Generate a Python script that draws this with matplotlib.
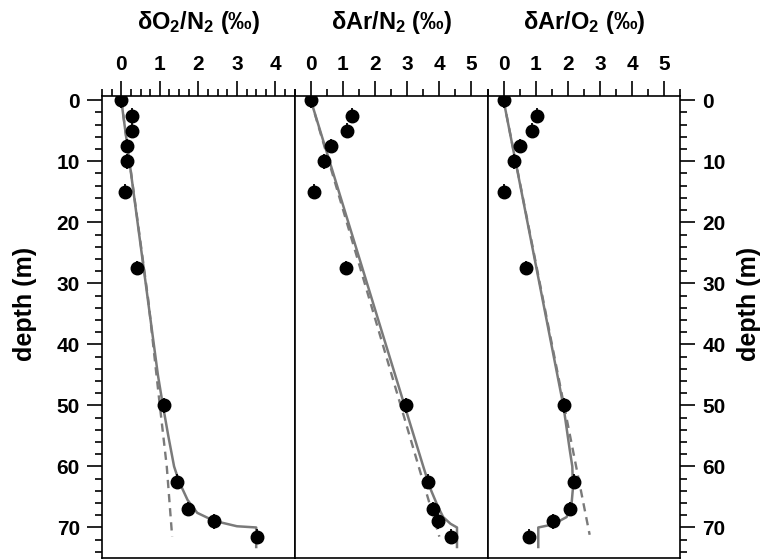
import matplotlib
import matplotlib.pyplot as plt
from matplotlib.ticker import MultipleLocator

matplotlib.use("Agg")

plt.rcParams["font.family"] = ["Liberation Sans", "DejaVu Sans"]
plt.rcParams["font.weight"] = "bold"
plt.rcParams["mathtext.default"] = "regular"

# measured samples
depth = [0, 2.5, 5, 7.5, 10, 15, 27.5, 50, 62.5, 67, 69, 71.5]
o2n2 = [0.0, 0.29, 0.27, 0.16, 0.14, 0.10, 0.41, 1.11, 1.44, 1.74, 2.41, 3.51]
arn2 = [0.0, 1.28, 1.14, 0.63, 0.41, 0.09, 1.09, 2.97, 3.64, 3.80, 3.95, 4.35]
aro2 = [0.0, 1.03, 0.90, 0.52, 0.31, 0.01, 0.70, 1.88, 2.20, 2.06, 1.54, 0.80]
depth_err = 1.2

# model curves (solid)
o2n2_model_z = [0, 45, 50, 55, 60, 62.5, 65.5, 67.6, 68.9, 69.8, 70, 73.2]
o2n2_model = [0, 0.95, 1.08, 1.22, 1.37, 1.5, 1.72, 1.97, 2.4, 3.0, 3.5, 3.5]
arn2_model_z = [0, 60, 62, 64, 66.5, 68.3, 69.4, 70, 73.2]
arn2_model = [0, 3.5, 3.62, 3.75, 3.95, 4.12, 4.35, 4.55, 4.55]
aro2_model_z = [0, 50, 57.3, 60, 63.5, 66.5, 68.3, 69.5, 70, 73.2]
aro2_model = [0, 1.86, 2.06, 2.14, 2.16, 2.11, 1.96, 1.54, 1.08, 1.08]

# model curves (dashed)
o2n2_dash_z = [0, 32.7, 50, 60, 71.5]
o2n2_dash = [0, 0.7, 1.0, 1.18, 1.32]
arn2_dash_z = [0, 71.5]
arn2_dash = [0, 4.0]
aro2_dash_z = [0, 71.2]
aro2_dash = [0, 2.68]

titles = ["δO$_2$/N$_2$ (‰)", "δAr/N$_2$ (‰)", "δAr/O$_2$ (‰)"]
xlims = [(-0.5, 4.5), (-0.5, 5.5), (-0.5, 5.5)]
xminor = [0.25, 0.5, 0.5]

GRAY = "#7a7a7a"

fig = plt.figure(figsize=(7.64, 5.6), dpi=100)
left, width, bottom, height = 0.1335, 0.2523, 0.0036, 0.825

panels = [
    (o2n2, o2n2_model_z, o2n2_model, o2n2_dash_z, o2n2_dash),
    (arn2, arn2_model_z, arn2_model, arn2_dash_z, arn2_dash),
    (aro2, aro2_model_z, aro2_model, aro2_dash_z, aro2_dash),
]

axes = []
for i, (vals, mz, mv, dz, dv) in enumerate(panels):
    ax = fig.add_axes([left + i * width, bottom, width, height])
    axes.append(ax)
    ax.plot(dv, dz, color=GRAY, lw=1.7, dashes=(3.5, 2.5), zorder=2)
    ax.plot(mv, mz, color=GRAY, lw=1.8, zorder=3)
    ax.errorbar(vals, depth, yerr=depth_err, fmt="o", color="black", ms=9,
                elinewidth=1.3, capsize=0, zorder=4)

    ax.set_xlim(*xlims[i])
    ax.set_ylim(75, -0.7)
    ax.xaxis.tick_top()
    ax.xaxis.set_major_locator(MultipleLocator(1))
    ax.xaxis.set_minor_locator(MultipleLocator(xminor[i]))
    ax.yaxis.set_major_locator(MultipleLocator(10))
    ax.yaxis.set_minor_locator(MultipleLocator(2))
    for s in ax.spines.values():
        s.set_linewidth(1.2)
    ax.tick_params(which="major", length=11, width=1.2, labelsize=15, direction="out")
    ax.tick_params(which="minor", length=5, width=1.2, direction="out")
    ax.tick_params(axis="x", which="both", top=True, bottom=False, labeltop=True,
                   labelbottom=False, pad=5)
    ax.tick_params(axis="y", which="both", left=False, right=False,
                   labelleft=False, labelright=False)

    fig.text(left + (i + 0.5) * width, 0.96, titles[i], ha="center", va="center",
             fontsize=17, fontweight="bold")

axes[0].tick_params(axis="y", which="both", left=True, labelleft=True, pad=5)
axes[0].set_ylabel("depth (m)", fontsize=18, fontweight="bold", labelpad=14)
axes[0].yaxis.label.set_y(0.55)

axes[2].yaxis.set_label_position("right")
axes[2].tick_params(axis="y", which="both", right=True, labelright=True, pad=5)
axes[2].set_ylabel("depth (m)", fontsize=18, fontweight="bold", labelpad=8,
                   rotation=90)
axes[2].yaxis.label.set_y(0.55)

fig.savefig("out.png", dpi=100)
